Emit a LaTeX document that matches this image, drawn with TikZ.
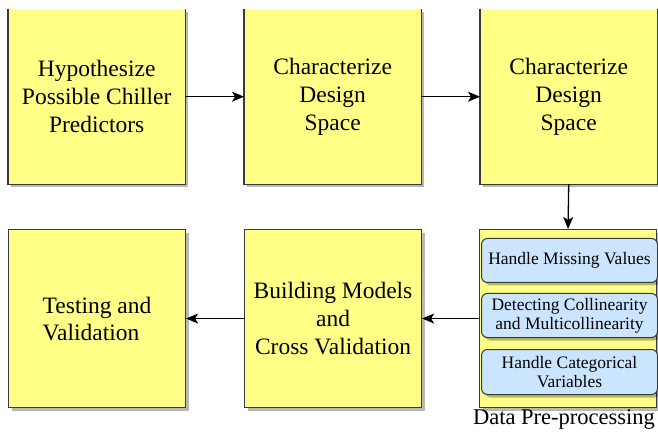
\documentclass[tikz,border=0pt]{standalone}
\usepackage{fontspec}
\setmainfont{Liberation Serif}
\newfontfamily\serf{Liberation Serif}
\usetikzlibrary{shadows,arrows.meta}
\definecolor{fillY}{HTML}{FFFF88}
\definecolor{lineC}{HTML}{36393D}
\definecolor{fillB}{HTML}{CCE5FF}
\begin{document}
\begin{tikzpicture}[x=1pt,y=-1pt,
  shd/.style={drop shadow={shadow xshift=3pt,shadow yshift=-3pt,fill=black,opacity=0.28}},
  box/.style={shd,fill=fillY,minimum width=177pt,minimum height=175pt,inner sep=0pt,
    anchor=north west,align=center,font=\serf\fontsize{23.5}{28}\selectfont},
  boxb/.style={box,draw=lineC,line width=1.1pt,minimum height=178pt},
  inbox/.style={shd,fill=fillB,draw=lineC,line width=1pt,rounded corners=6pt,
    minimum width=176pt,inner sep=0pt,anchor=north west,align=center,
    font=\serf\fontsize{17.5}{19}\selectfont},
  side/.style={draw=lineC,line width=1.1pt},
  arr/.style={draw=black,line width=1.3pt,-{Stealth[length=12pt,width=10pt,inset=3pt]}}]
\useasboundingbox (0,0) rectangle (658,435);
% top row
\node[box] (b1) at (8,9) {Hypothesize\\Possible Chiller\\Predictors};
\node[box] (b2) at (244,9) {Characterize\\Design\\Space};
\node[box] (b3) at (480,9) {Characterize\\Design\\Space};
\foreach \n in {b1,b2,b3}
  \draw[side] (\n.north west) -- (\n.south west) -- (\n.south east) -- (\n.north east);
% bottom row
\node[boxb] (b4) at (8,229) {};
\node[align=left,font=\serf\fontsize{23.5}{27}\selectfont] (t4) at (b4.center) {Testing and\\Validation};
\node[boxb] (b5) at (244,229) {Building Models\\and\\Cross Validation};
\node[boxb] (pre) at (479,229) {};
\node[inbox,minimum height=44pt] (i1) at (481,238) {Handle Missing Values};
\node[inbox,minimum height=44pt] (i2) at (481,293) {Detecting Collinearity\\and Multicollinearity};
\node[inbox,minimum height=45pt] (i3) at (481,349) {Handle Categorical\\Variables};
\node[font=\serf\fontsize{22.5}{25}\selectfont,anchor=north,inner sep=1pt] (lbl) at (564,408) {Data Pre-processing};
% connectors
\draw[arr] (b1.east) -- (b2.west);
\draw[arr] (b2.east) -- (b3.west);
\draw[arr] (b3.south) -- (pre.north);
\draw[arr] (pre.west) -- (b5.east);
\draw[arr] (b5.west) -- (b4.east);
\end{tikzpicture}
\end{document}
